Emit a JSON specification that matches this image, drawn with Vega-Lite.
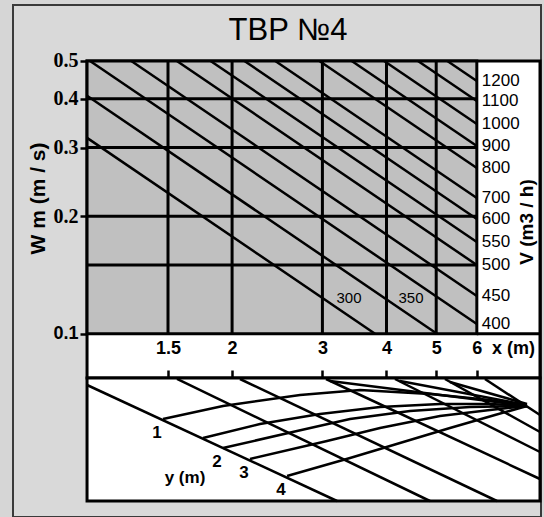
{
  "$schema": "https://vega.github.io/schema/vega-lite/v6.json",
  "width": 528,
  "height": 512,
  "autosize": {"type": "none"},
  "padding": {"left": 13, "top": 5, "right": 3, "bottom": 0},
  "background": "#d6d6d6",
  "title": {
    "text": "TBP №4",
    "font": "Liberation Sans",
    "fontSize": 31,
    "fontWeight": "normal",
    "color": "black",
    "anchor": "middle",
    "frame": "group",
    "baseline": "alphabetic",
    "offset": -38,
    "dx": 11,
    "dy": 28
  },
  "config": {
    "view": {"fill": "#d9d9d9", "stroke": "#3a3a3a", "strokeWidth": 2},
    "font": "Liberation Sans"
  },
  "datasets": {
    "vlines": [
      {"V": 1200, "x": 5.256, "W": 0.5}, {"V": 1200, "x": 6, "W": 0.4441},
      {"V": 1100, "x": 4.607, "W": 0.5}, {"V": 1100, "x": 6, "W": 0.3948},
      {"V": 1000, "x": 3.958, "W": 0.5}, {"V": 1000, "x": 6, "W": 0.3446},
      {"V": 900, "x": 3.422, "W": 0.5}, {"V": 900, "x": 6, "W": 0.3027},
      {"V": 800, "x": 2.96, "W": 0.5}, {"V": 800, "x": 6, "W": 0.2659},
      {"V": 700, "x": 2.428, "W": 0.5}, {"V": 700, "x": 6, "W": 0.2228},
      {"V": 600, "x": 2.114, "W": 0.5}, {"V": 600, "x": 6, "W": 0.1968},
      {"V": 550, "x": 1.816, "W": 0.5}, {"V": 550, "x": 6, "W": 0.1718},
      {"V": 500, "x": 1.561, "W": 0.5}, {"V": 500, "x": 6, "W": 0.15},
      {"V": 450, "x": 1.272, "W": 0.5}, {"V": 450, "x": 6, "W": 0.1249},
      {"V": 400, "x": 1.057, "W": 0.5}, {"V": 400, "x": 6, "W": 0.1059},
      {"V": 350, "x": 1.0429, "W": 0.4073}, {"V": 350, "x": 5.017, "W": 0.1},
      {"V": 300, "x": 1.0429, "W": 0.3176}, {"V": 300, "x": 3.799, "W": 0.1}
    ],
    "hgrid": [{"W": 0.15}, {"W": 0.2}, {"W": 0.3}, {"W": 0.4}],
    "vgrid": [{"x": 1.5}, {"x": 2}, {"x": 3}, {"x": 4}, {"x": 5}],
    "mesh": [
      {"line": "xb", "kind": "x", "val": 0, "i": 0, "x": 1.0429, "v": 94.31},
      {"line": "xb", "kind": "x", "val": 0, "i": 1, "x": 3.2032, "v": 0},
      {"line": "x1.5", "kind": "x", "val": 1.5, "i": 0, "x": 1.5618, "v": 99.19},
      {"line": "x1.5", "kind": "x", "val": 1.5, "i": 1, "x": 4.8613, "v": 0},
      {"line": "x2", "kind": "x", "val": 2, "i": 0, "x": 2.072, "v": 99.19},
      {"line": "x2", "kind": "x", "val": 2, "i": 1, "x": 6.5668, "v": 0},
      {"line": "x3", "kind": "x", "val": 3, "i": 0, "x": 3.0489, "v": 99.19},
      {"line": "x3", "kind": "x", "val": 3, "i": 1, "x": 7.9675, "v": 17.89},
      {"line": "x4", "kind": "x", "val": 4, "i": 0, "x": 4.1546, "v": 99.19},
      {"line": "x4", "kind": "x", "val": 4, "i": 1, "x": 7.9675, "v": 39.84},
      {"line": "x5", "kind": "x", "val": 5, "i": 0, "x": 5.1999, "v": 99.19},
      {"line": "x5", "kind": "x", "val": 5, "i": 1, "x": 7.9675, "v": 56.1},
      {"line": "x6", "kind": "x", "val": 6, "i": 0, "x": 6.2224, "v": 99.19},
      {"line": "x6", "kind": "x", "val": 6, "i": 1, "x": 7.9675, "v": 69.92},
      {"line": "y1", "kind": "y", "val": 1, "i": 0, "x": 1.4667, "v": 66.67},
      {"line": "y1", "kind": "y", "val": 1, "i": 1, "x": 1.9198, "v": 77.24},
      {"line": "y1", "kind": "y", "val": 1, "i": 2, "x": 2.7132, "v": 86.18},
      {"line": "y1", "kind": "y", "val": 1, "i": 3, "x": 3.5516, "v": 90.24},
      {"line": "y1", "kind": "y", "val": 1, "i": 4, "x": 4.8613, "v": 86.99},
      {"line": "y1", "kind": "y", "val": 1, "i": 5, "x": 6.3638, "v": 82.11},
      {"line": "y1", "kind": "y", "val": 1, "i": 6, "x": 7.5154, "v": 77.24},
      {"line": "y1.5", "kind": "y", "val": 1.5, "i": 0, "x": 1.7551, "v": 51.22},
      {"line": "y1.5", "kind": "y", "val": 1.5, "i": 1, "x": 2.2665, "v": 62.6},
      {"line": "y1.5", "kind": "y", "val": 1.5, "i": 2, "x": 2.9679, "v": 70.73},
      {"line": "y1.5", "kind": "y", "val": 1.5, "i": 3, "x": 3.8851, "v": 76.42},
      {"line": "y1.5", "kind": "y", "val": 1.5, "i": 4, "x": 5.0845, "v": 78.86},
      {"line": "y1.5", "kind": "y", "val": 1.5, "i": 5, "x": 6.3638, "v": 78.86},
      {"line": "y1.5", "kind": "y", "val": 1.5, "i": 6, "x": 7.5154, "v": 77.24},
      {"line": "y2", "kind": "y", "val": 2, "i": 0, "x": 1.9198, "v": 43.09},
      {"line": "y2", "kind": "y", "val": 2, "i": 1, "x": 2.6769, "v": 56.91},
      {"line": "y2", "kind": "y", "val": 2, "i": 2, "x": 3.3957, "v": 66.67},
      {"line": "y2", "kind": "y", "val": 2, "i": 3, "x": 4.444, "v": 73.17},
      {"line": "y2", "kind": "y", "val": 2, "i": 4, "x": 5.817, "v": 76.42},
      {"line": "y2", "kind": "y", "val": 2, "i": 5, "x": 7.5154, "v": 77.24},
      {"line": "y3", "kind": "y", "val": 3, "i": 0, "x": 2.1671, "v": 34.15},
      {"line": "y3", "kind": "y", "val": 3, "i": 1, "x": 3.0626, "v": 48.78},
      {"line": "y3", "kind": "y", "val": 3, "i": 2, "x": 3.8851, "v": 59.35},
      {"line": "y3", "kind": "y", "val": 3, "i": 3, "x": 5.0845, "v": 69.11},
      {"line": "y3", "kind": "y", "val": 3, "i": 4, "x": 6.3638, "v": 73.98},
      {"line": "y3", "kind": "y", "val": 3, "i": 5, "x": 7.5154, "v": 77.24},
      {"line": "y4", "kind": "y", "val": 4, "i": 0, "x": 2.5594, "v": 20.33},
      {"line": "y4", "kind": "y", "val": 4, "i": 1, "x": 3.3957, "v": 34.96},
      {"line": "y4", "kind": "y", "val": 4, "i": 2, "x": 4.2489, "v": 47.15},
      {"line": "y4", "kind": "y", "val": 4, "i": 3, "x": 5.3179, "v": 59.35},
      {"line": "y4", "kind": "y", "val": 4, "i": 4, "x": 6.5082, "v": 69.92},
      {"line": "y4", "kind": "y", "val": 4, "i": 5, "x": 7.5154, "v": 77.24},
      {"line": "c1", "kind": "c", "val": 0, "i": 0, "x": 3.1042, "v": 97.56},
      {"line": "c1", "kind": "c", "val": 0, "i": 1, "x": 7.5154, "v": 77.24},
      {"line": "c2", "kind": "c", "val": 0, "i": 0, "x": 4.2489, "v": 97.56},
      {"line": "c2", "kind": "c", "val": 0, "i": 1, "x": 7.5154, "v": 78.05},
      {"line": "c3", "kind": "c", "val": 0, "i": 0, "x": 5.3179, "v": 96.75},
      {"line": "c3", "kind": "c", "val": 0, "i": 1, "x": 7.5154, "v": 78.86}
    ]
  },
  "resolve": {"scale": {"y": "independent"}},
  "layer": [
    {
      "layer": [
        {
          "data": {"values": [{}]},
          "mark": {"type": "rect", "fill": "white", "stroke": "black", "strokeWidth": 3},
          "encoding": {
            "x": {"datum": 1.0429, "type": "quantitative", "scale": {"type": "log", "domain": [0.748, 8.0033], "nice": false}},
            "x2": {"datum": 7.9675},
            "y": {"datum": 0.077, "type": "quantitative", "scale": {"type": "log", "domain": [0.0339, 0.69564], "nice": false}},
            "y2": {"datum": 0.5}
          }
        },
        {
          "data": {"values": [{}]},
          "mark": {"type": "rect", "fill": "#c0c0c0", "stroke": "black", "strokeWidth": 3},
          "encoding": {
            "x": {"datum": 1.0429, "type": "quantitative", "scale": {"type": "log", "domain": [0.748, 8.0033], "nice": false}},
            "x2": {"datum": 6},
            "y": {
              "datum": 0.1,
              "type": "quantitative",
              "scale": {"type": "log", "domain": [0.0339, 0.69564], "nice": false},
              "axis": {
                "orient": "left",
                "offset": -74,
                "values": [0.1, 0.2, 0.3, 0.4, 0.5],
                "labelExpr": "datum.value",
                "domain": false,
                "grid": false,
                "ticks": true,
                "tickSize": 7,
                "tickWidth": 2.5,
                "tickColor": "black",
                "labelFont": {"condition": {"test": "datum.value == 0.1", "value": "Liberation Sans"}, "value": "Liberation Serif"},
                "labelFontSize": {"condition": {"test": "datum.value == 0.1", "value": 18}, "value": 20},
                "labelFontWeight": "bold",
                "labelColor": "black",
                "labelPadding": 2,
                "labelOverlap": false,
                "labelFlush": false,
                "title": "W m (m / s)",
                "titleX": -49,
                "titleY": 193,
                "titleAngle": 270,
                "titleAlign": "center",
                "titleBaseline": "middle",
                "titleFont": "Liberation Sans",
                "titleFontSize": 21,
                "titleFontWeight": "bold",
                "titleColor": "black",
                "zindex": 1
              }
            },
            "y2": {"datum": 0.5}
          }
        },
        {
          "data": {"name": "vgrid"},
          "mark": {"type": "rule", "color": "black", "strokeWidth": 3},
          "encoding": {
            "x": {"field": "x", "type": "quantitative", "scale": {"type": "log", "domain": [0.748, 8.0033], "nice": false}},
            "y": {"datum": 0.1, "type": "quantitative", "scale": {"type": "log", "domain": [0.0339, 0.69564], "nice": false}},
            "y2": {"datum": 0.5}
          }
        },
        {
          "data": {"name": "hgrid"},
          "mark": {"type": "rule", "color": "black", "strokeWidth": 3},
          "encoding": {
            "y": {"field": "W", "type": "quantitative", "scale": {"type": "log", "domain": [0.0339, 0.69564], "nice": false}},
            "x": {"datum": 1.0429, "type": "quantitative", "scale": {"type": "log", "domain": [0.748, 8.0033], "nice": false}},
            "x2": {"datum": 6}
          }
        },
        {
          "data": {"values": [{}]},
          "mark": {"type": "rule", "color": "black", "strokeWidth": 3},
          "encoding": {
            "y": {"datum": 0.1, "type": "quantitative", "scale": {"type": "log", "domain": [0.0339, 0.69564], "nice": false}},
            "x": {"datum": 6, "type": "quantitative", "scale": {"type": "log", "domain": [0.748, 8.0033], "nice": false}},
            "x2": {"datum": 7.9675}
          }
        },
        {
          "data": {"name": "vlines"},
          "mark": {"type": "line", "color": "black", "strokeWidth": 2.5},
          "encoding": {
            "x": {"field": "x", "type": "quantitative", "scale": {"type": "log", "domain": [0.748, 8.0033], "nice": false}},
            "y": {"field": "W", "type": "quantitative", "scale": {"type": "log", "domain": [0.0339, 0.69564], "nice": false}},
            "detail": {"field": "V", "type": "nominal"}
          }
        },
        {
          "data": {"name": "vlines"},
          "transform": [{"filter": "datum.x == 6"}],
          "mark": {"type": "text", "align": "left", "baseline": "middle", "dx": 5, "fontSize": 17, "color": "black"},
          "encoding": {
            "x": {"field": "x", "type": "quantitative", "scale": {"type": "log", "domain": [0.748, 8.0033], "nice": false}},
            "y": {"field": "W", "type": "quantitative", "scale": {"type": "log", "domain": [0.0339, 0.69564], "nice": false}},
            "text": {"field": "V", "type": "nominal"}
          }
        },
        {
          "data": {"name": "vlines"},
          "transform": [{"filter": "datum.W == 0.1"}],
          "mark": {"type": "text", "align": "center", "baseline": "middle", "dx": -26, "dy": -36, "fontSize": 15, "color": "black"},
          "encoding": {
            "x": {"field": "x", "type": "quantitative", "scale": {"type": "log", "domain": [0.748, 8.0033], "nice": false}},
            "y": {"field": "W", "type": "quantitative", "scale": {"type": "log", "domain": [0.0339, 0.69564], "nice": false}},
            "text": {"field": "V", "type": "nominal"}
          }
        },
        {
          "data": {"values": [{}]},
          "mark": {"type": "text", "text": "V (m3 / h)", "angle": 270, "align": "center", "baseline": "middle", "fontSize": 19, "fontWeight": "bold", "color": "black"},
          "encoding": {
            "x": {"datum": 7.5154, "type": "quantitative", "scale": {"type": "log", "domain": [0.748, 8.0033], "nice": false}},
            "y": {"datum": 0.1933, "type": "quantitative", "scale": {"type": "log", "domain": [0.0339, 0.69564], "nice": false}}
          }
        }
      ]
    },
    {
      "layer": [
        {
          "data": {"values": [{}]},
          "mark": {"type": "rect", "fill": "white", "stroke": "black", "strokeWidth": 3},
          "encoding": {
            "x": {
              "datum": 1.0429,
              "type": "quantitative",
              "scale": {"type": "log", "domain": [0.748, 8.0033], "nice": false},
              "axis": {
                "orient": "top",
                "offset": -373,
                "values": [1.5, 2, 3, 4, 5, 6],
                "labelExpr": "datum.value",
                "domain": false,
                "grid": false,
                "ticks": true,
                "tickSize": 8,
                "tickWidth": 2.5,
                "tickColor": "black",
                "labelFont": "Liberation Sans",
                "labelFontSize": 18,
                "labelFontWeight": "bold",
                "labelColor": "black",
                "labelBaseline": "middle",
                "labelPadding": 22,
                "labelOverlap": false,
                "labelFlush": false,
                "title": "x (m)",
                "titleX": 500,
                "titleY": -30,
                "titleAngle": 0,
                "titleAlign": "center",
                "titleBaseline": "middle",
                "titleFont": "Liberation Sans",
                "titleFontSize": 18,
                "titleFontWeight": "bold",
                "titleColor": "black",
                "zindex": 1
              }
            },
            "x2": {"datum": 7.9675},
            "y": {"datum": 0, "type": "quantitative", "scale": {"type": "linear", "domain": [-13.008, 403.252], "nice": false, "zero": false}, "axis": null},
            "y2": {"datum": 100}
          }
        },
        {
          "data": {"name": "mesh"},
          "mark": {"type": "line", "color": "black", "strokeWidth": 2.5},
          "encoding": {
            "x": {"field": "x", "type": "quantitative", "scale": {"type": "log", "domain": [0.748, 8.0033], "nice": false}},
            "y": {"field": "v", "type": "quantitative", "scale": {"type": "linear", "domain": [-13.008, 403.252], "nice": false, "zero": false}, "axis": null},
            "detail": {"field": "line", "type": "nominal"},
            "order": {"field": "i", "type": "quantitative"}
          }
        },
        {
          "data": {"name": "mesh"},
          "transform": [{"filter": "datum.kind == 'y' && datum.i == 0 && datum.val % 1 == 0"}],
          "mark": {"type": "text", "align": "center", "baseline": "middle", "dx": -6, "dy": 14, "fontSize": 17, "fontWeight": "bold", "color": "black"},
          "encoding": {
            "x": {"field": "x", "type": "quantitative", "scale": {"type": "log", "domain": [0.748, 8.0033], "nice": false}},
            "y": {"field": "v", "type": "quantitative", "scale": {"type": "linear", "domain": [-13.008, 403.252], "nice": false, "zero": false}, "axis": null},
            "text": {"field": "val", "type": "nominal"}
          }
        },
        {
          "data": {"values": [{}]},
          "mark": {"type": "text", "text": "y (m)", "align": "center", "baseline": "middle", "fontSize": 17, "fontWeight": "bold", "color": "black"},
          "encoding": {
            "x": {"datum": 1.6189, "type": "quantitative", "scale": {"type": "log", "domain": [0.748, 8.0033], "nice": false}},
            "y": {"datum": 18.7, "type": "quantitative", "scale": {"type": "linear", "domain": [-13.008, 403.252], "nice": false, "zero": false}, "axis": null}
          }
        }
      ]
    }
  ]
}
